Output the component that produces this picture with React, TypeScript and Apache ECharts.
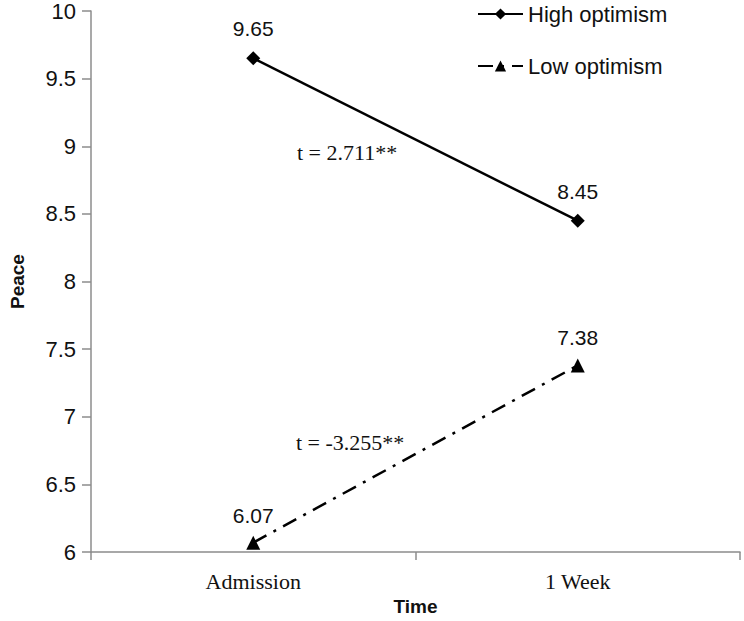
import React, { useEffect, useRef } from "react";
import * as echarts from "echarts";

const categories = ["Admission", "1 Week"];
const highOptimism = [9.65, 8.45];
const lowOptimism = [6.07, 7.38];
const seriesNames = ["High optimism", "Low optimism"];
const annotations = ["t = 2.711**", "t = -3.255**"];
const yMin = 6;
const yMax = 10;
const yInterval = 0.5;

export default function App() {
  const ref = useRef<HTMLDivElement>(null);
  useEffect(() => {
    if (!ref.current) return;
    const chart = echarts.init(ref.current, null, { renderer: "svg" });
    const sans = "Liberation Sans, Arial, sans-serif";
    const serif = "Liberation Serif, Times New Roman, serif";
    chart.setOption({
      animation: false,
      backgroundColor: "#ffffff",
      grid: { left: 90, right: 4, top: 10, bottom: 66, containLabel: false },
      legend: {
        orient: "vertical",
        left: 477,
        top: 3,
        padding: 0,
        itemWidth: 45,
        itemHeight: 14,
        itemGap: 30,
        textStyle: { fontFamily: sans, fontSize: 22, color: "#111", lineHeight: 22 },
        data: seriesNames,
      },
      xAxis: {
        type: "category",
        data: categories,
        boundaryGap: true,
        name: "Time",
        nameLocation: "middle",
        nameGap: 44,
        nameTextStyle: { fontFamily: sans, fontSize: 19, fontWeight: "bold", color: "#111" },
        axisLine: { lineStyle: { color: "#8c8c8c", width: 1.5 } },
        axisTick: { show: true, length: 8, lineStyle: { color: "#8c8c8c", width: 1.5 } },
        axisLabel: { fontFamily: serif, fontSize: 22, color: "#111", margin: 18 },
        splitLine: { show: false },
      },
      yAxis: {
        type: "value",
        min: yMin,
        max: yMax,
        interval: yInterval,
        name: "Peace",
        nameLocation: "middle",
        nameRotate: 90,
        nameGap: 64,
        nameTextStyle: { fontFamily: sans, fontSize: 19, fontWeight: "bold", color: "#111" },
        axisLine: { show: true, lineStyle: { color: "#8c8c8c", width: 1.5 } },
        axisTick: { show: true, length: 9, lineStyle: { color: "#8c8c8c", width: 1.5 } },
        axisLabel: { fontFamily: sans, fontSize: 22, color: "#111", margin: 15 },
        splitLine: { show: false },
      },
      series: [
        {
          name: seriesNames[0],
          type: "line",
          data: highOptimism,
          symbol: "diamond",
          symbolSize: 14,
          itemStyle: { color: "#000" },
          lineStyle: { color: "#000", width: 2.5, type: "solid" },
          label: {
            show: true,
            position: "top",
            distance: 12,
            fontFamily: sans,
            fontSize: 21,
            color: "#111",
          },
        },
        {
          name: seriesNames[1],
          type: "line",
          data: lowOptimism,
          symbol: "triangle",
          symbolSize: 14,
          itemStyle: { color: "#000" },
          lineStyle: { color: "#000", width: 2.5, type: [15, 8, 3, 8] },
          label: {
            show: true,
            position: "top",
            distance: 10,
            fontFamily: sans,
            fontSize: 21,
            color: "#111",
          },
        },
      ],
      graphic: [
        {
          type: "text",
          left: 297,
          top: 141,
          style: { text: annotations[0], fontFamily: serif, fontSize: 22, fill: "#111" },
        },
        {
          type: "text",
          left: 296,
          top: 431,
          style: { text: annotations[1], fontFamily: serif, fontSize: 22, fill: "#111" },
        },
      ],
    });
    return () => chart.dispose();
  }, []);
  return <div ref={ref} style={{ width: 744, height: 621, position: "absolute", left: 0, top: 0 }} />;
}
